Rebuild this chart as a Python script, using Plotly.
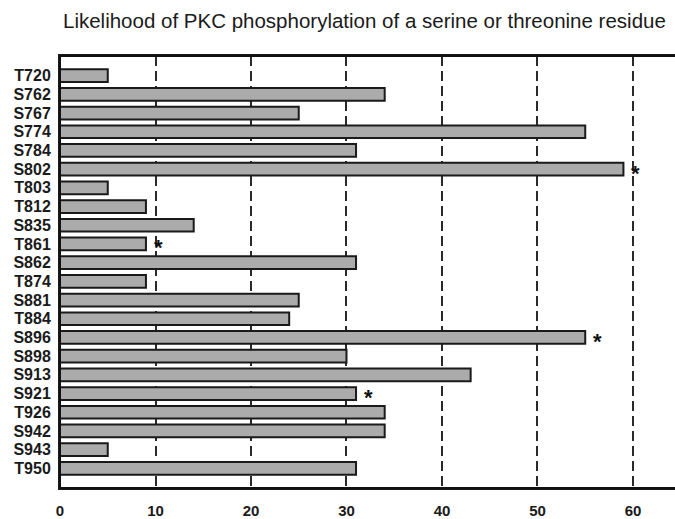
import plotly.graph_objects as go

residues = ["T720", "S762", "S767", "S774", "S784", "S802", "T803", "T812", "S835", "T861", "S862",
            "T874", "S881", "T884", "S896", "S898", "S913", "S921", "T926", "S942", "S943", "T950"]
likelihood = [5, 34, 25, 55, 31, 59, 5, 9, 14, 9, 31, 9, 25, 24, 55, 30, 43, 31, 34, 34, 5, 31]
starred = ["S802", "T861", "S896", "S921"]
x_ticks = [0, 10, 20, 30, 40, 50, 60]

FONT = "Liberation Sans, Arial, Helvetica, sans-serif"

fig = go.Figure()
fig.add_trace(go.Bar(
    x=likelihood, y=residues, orientation="h",
    marker=dict(color="#ababab", line=dict(color="#1a1a1a", width=2)),
    width=0.68, showlegend=False, hoverinfo="x+y",
))

for r in starred:
    v = likelihood[residues.index(r)]
    fig.add_annotation(x=v, y=r, text="<b>*</b>", showarrow=False, xanchor="left",
                       xshift=6, yshift=-4, font=dict(size=22, color="#111", family=FONT))

# frame of the plot area (right side runs off the canvas, as in the source)
fig.add_shape(type="rect", xref="paper", yref="paper", x0=0, x1=1.02, y0=0, y1=1,
              line=dict(color="#111111", width=2), fillcolor="rgba(0,0,0,0)", layer="above")

fig.update_layout(
    width=675, height=519,
    margin=dict(l=60, r=0, t=56, b=31),
    paper_bgcolor="white", plot_bgcolor="white",
    title=dict(text="Likelihood of PKC phosphorylation of a serine or threonine residue",
               x=63 / 675, xanchor="left", xref="container",
               y=1 - 21 / 519, yanchor="middle", yref="container",
               font=dict(family=FONT, size=20.5, color="#1a1a1a")),
    font=dict(family=FONT, color="#1a1a1a"),
)
fig.update_xaxes(
    range=[0, 64.4], tickvals=x_ticks, ticktext=[str(t) for t in x_ticks],
    showgrid=True, gridcolor="#2a2a2a", griddash="10px,5px", gridwidth=1.5,
    showline=True, linecolor="#1a1a1a", linewidth=2, mirror=True,
    zeroline=False, tickfont=dict(size=15, weight="bold"), ticks="", ticklabelstandoff=8,
    automargin=False,
)
fig.update_yaxes(
    categoryorder="array", categoryarray=residues,
    tickmode="array", tickvals=residues,
    range=[22.05, -1.05],
    showline=True, linecolor="#1a1a1a", linewidth=2, showgrid=False,
    tickfont=dict(size=16, weight="bold"), ticks="",
    ticklabelstandoff=4, automargin=False,
)

fig.write_html("out.html", config={"displayModeBar": False},
               post_script="document.body.style.margin='0';document.body.style.overflow='hidden';")
